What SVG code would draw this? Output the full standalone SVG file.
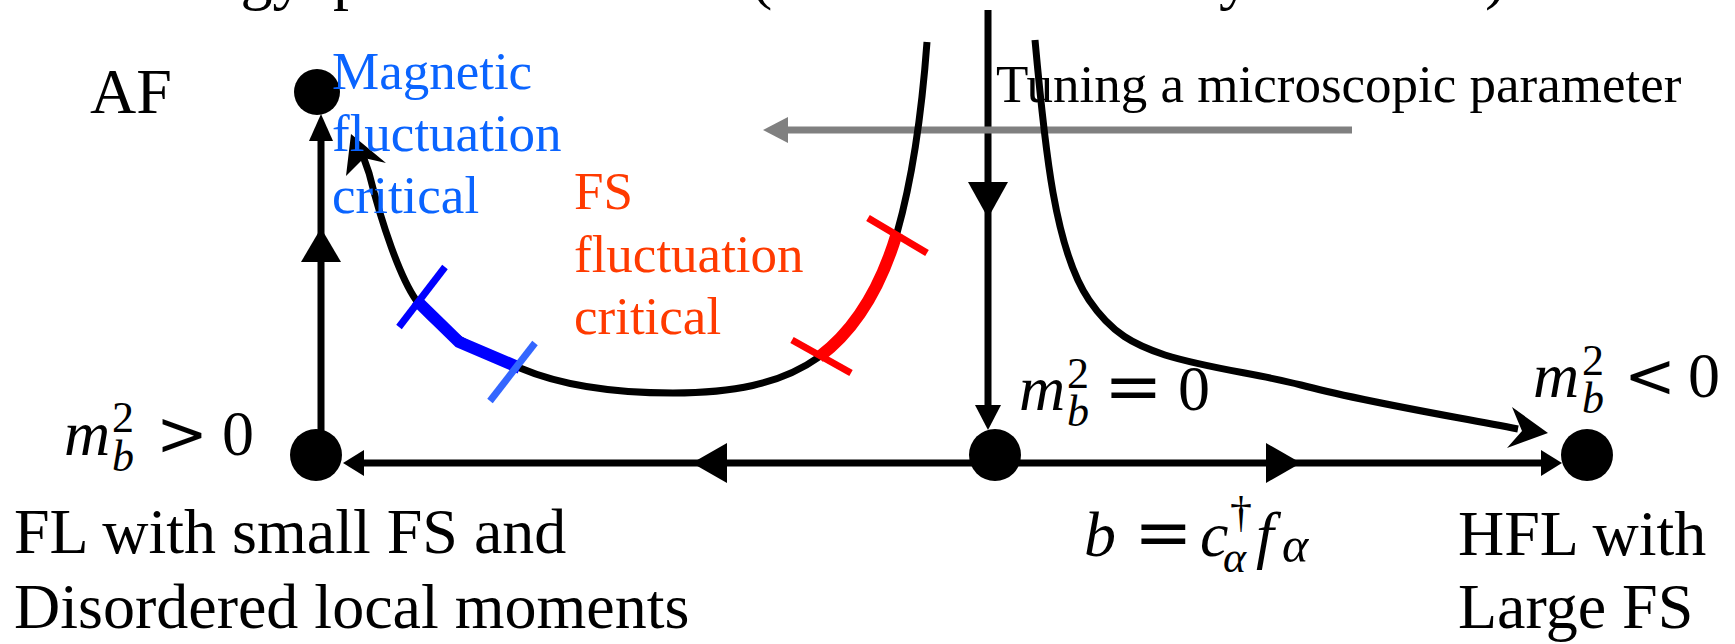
<svg xmlns="http://www.w3.org/2000/svg" width="1735" height="644" viewBox="0 0 1735 644">
<style>
.t{font-family:"Liberation Serif","Times New Roman",serif;fill:#000}
.big{font-size:64px}
.mid{font-size:53px}
.it{font-style:italic}
.sm{font-size:44px}
.op{font-family:"DejaVu Serif",serif;font-size:62px}
.eq{font-family:"DejaVu Serif",serif;font-size:70px}
.blue{fill:#0a64ff}
.red{fill:#ff3a00}
.ln{stroke:#000;fill:none;stroke-width:7}
.ah{fill:#000;stroke:none}
.dot{fill:#000}
</style>
<rect width="1735" height="644" fill="#fff"/>
<text class="t big" y="-3"><tspan x="-7" y="-3">Low-energy</tspan><tspan x="333" y="-3">phase structure</tspan><tspan x="751" y="-3">(Kondo breakdown</tspan><tspan x="1187" y="-3">by</tspan><tspan x="1300" y="-3">field</tspan><tspan x="1485" y="-3">)</tspan></text>

<g id="connectors">
  <!-- left vertical flow -->
  <line class="ln" x1="321" y1="455" x2="321" y2="125"/>
  <polygon class="ah" points="321,228 301,262 341,262"/>
  <polygon class="ah" points="321,114 309,141 333,141"/>
  <!-- bottom horizontal flow -->
  <line class="ln" x1="350" y1="463" x2="1555" y2="463" stroke-width="8"/>
  <polygon class="ah" points="343,463 364,450 364,476"/>
  <polygon class="ah" points="692,463 727,443 727,483"/>
  <polygon class="ah" points="1301,463 1266,443 1266,483"/>
  <polygon class="ah" points="1562,463 1541,450 1541,476"/>
  <!-- middle vertical flow -->
  <line class="ln" x1="988" y1="10" x2="988" y2="412"/>
  <polygon class="ah" points="988,218 968,182 1008,182"/>
  <polygon class="ah" points="988,430 975,405 1001,405"/>
  <!-- gray tuning arrow -->
  <line x1="780" y1="130" x2="1352" y2="130" stroke="#808080" stroke-width="7"/>
  <polygon points="763,130 788,117 788,143" fill="#808080"/>
  <!-- left U curve -->
  <path class="ln" d="M927,42 C922,110 912,180 897,233 C880,290 855,330 819,357 C780,385 730,393 673,393 C610,393 560,385 520,368 C480,351 440,335 416,300 C400,277 382,225 369,173 L363,156"/>
  <polygon class="ah" points="351,134 346,176 364,158 386,163"/>
  <!-- red critical segment -->
  <path d="M819,357 C855,330 880,290 897,233" fill="none" stroke="#ff0000" stroke-width="12"/>
  <line x1="868" y1="218" x2="927" y2="253" stroke="#ff0000" stroke-width="7"/>
  <line x1="792" y1="340" x2="851" y2="373" stroke="#ff0000" stroke-width="7"/>
  <!-- blue critical segment -->
  <polyline points="520,368 459,342 416,300" fill="none" stroke="#0000ff" stroke-width="12"/>
  <line x1="445" y1="267" x2="399" y2="327" stroke="#0000ff" stroke-width="7"/>
  <line x1="535" y1="343" x2="490" y2="401" stroke="#3366ff" stroke-width="7"/>
  <!-- right curve -->
  <path class="ln" d="M1035,40 C1045,150 1055,250 1089,300 C1112,334 1135,345 1165,355 C1210,369 1260,374 1301,385 C1360,401 1440,414 1518,429"/>
  <polygon class="ah" points="1548,433 1512,407 1522,431 1507,448"/>
</g>

<g id="node-af">
  <circle class="dot" cx="317" cy="92" r="23"/>
  <text class="t big" x="90" y="113">AF</text>
  <text class="t mid blue"><tspan x="332" y="89">Magnetic</tspan><tspan x="332" y="151">fluctuation</tspan><tspan x="332" y="213">critical</tspan></text>
</g>

<g id="node-fs-label">
  <text class="t mid red"><tspan x="574" y="209">FS</tspan><tspan x="574" y="272">fluctuation</tspan><tspan x="574" y="334">critical</tspan></text>
</g>

<g id="node-tuning">
  <text class="t mid" x="996" y="102">Tuning a microscopic parameter</text>
</g>

<g id="node-fl">
  <circle class="dot" cx="316" cy="455" r="26"/>
  <text class="t big"><tspan class="it" x="64" y="455">m</tspan><tspan class="sm it" x="112" y="471">b</tspan><tspan class="sm" x="112" y="432">2</tspan><tspan class="op" x="156" y="455">&gt;</tspan><tspan x="222" y="455">0</tspan></text>
  <text class="t big"><tspan x="14" y="553">FL with small FS and</tspan><tspan x="14" y="628">Disordered local moments</tspan></text>
</g>

<g id="node-qcp">
  <circle class="dot" cx="995" cy="455" r="26"/>
  <text class="t big"><tspan class="it" x="1019" y="410">m</tspan><tspan class="sm it" x="1067" y="426">b</tspan><tspan class="sm" x="1067" y="388">2</tspan><tspan class="eq" x="1104" y="410">=</tspan><tspan x="1178" y="410">0</tspan></text>
  <text class="t big"><tspan class="it" x="1084" y="556">b</tspan><tspan class="eq" x="1134" y="556">=</tspan><tspan class="it" x="1200" y="556">c</tspan><tspan class="sm" x="1230" y="527">†</tspan><tspan class="sm it" x="1223" y="572">α</tspan><tspan class="it" x="1256" y="556">f</tspan><tspan class="it" font-size="50" x="1282" y="562">α</tspan></text>
</g>

<g id="node-hfl">
  <circle class="dot" cx="1587" cy="455" r="26"/>
  <text class="t big"><tspan class="it" x="1533" y="397">m</tspan><tspan class="sm it" x="1582" y="413">b</tspan><tspan class="sm" x="1582" y="375">2</tspan><tspan class="op" x="1624" y="397">&lt;</tspan><tspan x="1688" y="397">0</tspan></text>
  <text class="t big"><tspan x="1458" y="555">HFL with</tspan><tspan x="1458" y="628">Large FS</tspan></text>
</g>
</svg>
